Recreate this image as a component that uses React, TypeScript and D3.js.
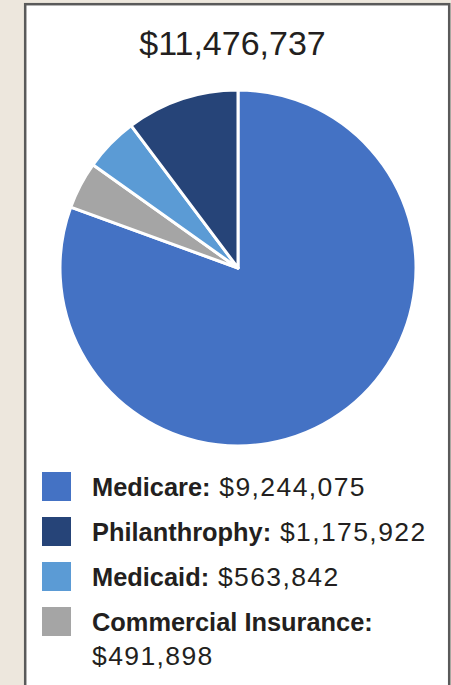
import React from "react";
import * as d3 from "d3";

const categories = ["Medicare", "Commercial Insurance", "Medicaid", "Philanthrophy"];
const values = [9244075, 491898, 563842, 1175922];
const colors = ["#4472C4", "#A5A5A5", "#5B9BD5", "#264478"];
const legendOrder = ["Medicare", "Philanthrophy", "Medicaid", "Commercial Insurance"];
const totalLabel = "$11,476,737";

const W = 451;
const H = 685;

export default function App() {
  const cx = 238;
  const cy = 268;
  const r = 178;
  const data = categories.map((c, i) => ({ name: c, value: values[i], color: colors[i] }));
  const pie = d3.pie<any>().sort(null).value((d: any) => d.value).startAngle(0).endAngle(2 * Math.PI);
  const arc = d3.arc<any>().innerRadius(0).outerRadius(r);
  const arcs = pie(data);
  const fmt = d3.format("$,");
  const textColor = "#231f20";
  const font = "'Liberation Sans', Arial, sans-serif";

  const legendY = d3.scaleBand<string>().domain(legendOrder).range([472, 652]).paddingInner(0);

  return (
    <svg width={W} height={H} style={{ position: "absolute", left: 0, top: 0 }}>
      <rect x={0} y={0} width={W} height={H} fill="#ede7dd" />
      <rect x={25.2} y={4.2} width={424} height={H + 20} fill="#ffffff" stroke="#5a5a5a" strokeWidth={2.5} />
      <text x={232.5} y={55} textAnchor="middle" fontFamily={font} fontSize={34} fill={textColor}>
        {totalLabel}
      </text>
      <g transform={`translate(${cx},${cy})`}>
        {arcs.map((a: any, i: number) => (
          <path key={i} d={arc(a) as string} fill={a.data.color} stroke="#ffffff" strokeWidth={3} strokeLinejoin="round" />
        ))}
      </g>
      {legendOrder.map((name) => {
        const d = data.find((x) => x.name === name)!;
        const y0 = legendY(name)!;
        const twoLine = name === "Commercial Insurance";
        return (
          <g key={name}>
            <rect x={42} y={y0} width={29} height={29} fill={d.color} />
            {twoLine ? (
              <>
                <text x={92} y={y0 + 24} fontFamily={font} fontSize={25.4} fill={textColor}>
                  <tspan fontWeight="bold">{name}:</tspan>
                </text>
                <text x={92} y={y0 + 58} fontFamily={font} fontSize={26.5} fill={textColor} letterSpacing={1.4}>
                  {fmt(d.value)}
                </text>
              </>
            ) : (
              <text x={92} y={y0 + 24} fontFamily={font} fill={textColor}>
                <tspan fontWeight="bold" fontSize={25.4}>{name}:</tspan>
                <tspan fontSize={26.5} letterSpacing={1.4}>{" " + fmt(d.value)}</tspan>
              </text>
            )}
          </g>
        );
      })}
    </svg>
  );
}
